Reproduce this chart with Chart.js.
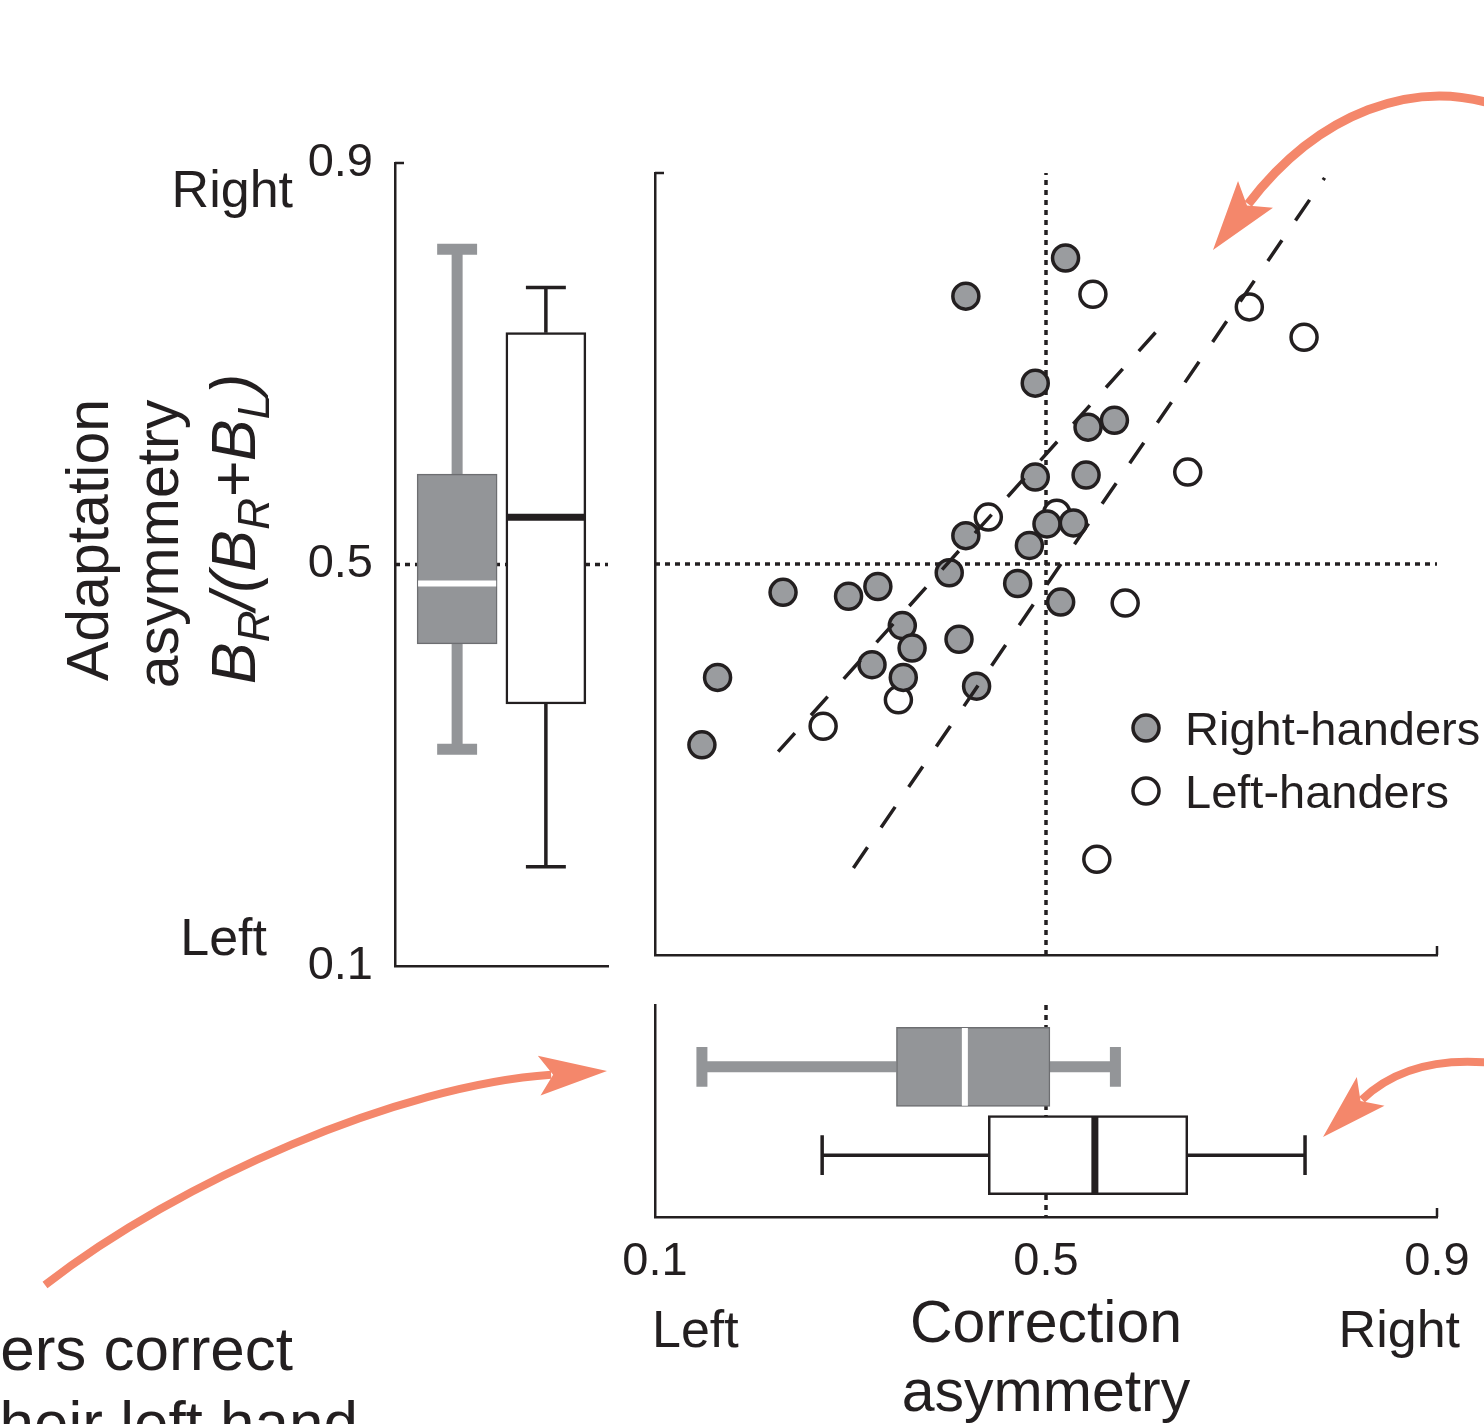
<!DOCTYPE html>
<html>
<head>
<meta charset="utf-8">
<title>Adaptation vs correction asymmetry</title>
<script src="https://cdn.jsdelivr.net/npm/chart.js@4.4.1/dist/chart.umd.min.js"></script>
<style>
  html, body { margin: 0; padding: 0; background: #fff; }
  #wrap { position: relative; width: 1484px; height: 1424px; overflow: hidden; background: #fff; }
  #wrap canvas { position: absolute; left: 0; top: 0; }
</style>
</head>
<body>
<div id="wrap">
  <canvas id="leftBox" width="1484" height="1424"></canvas>
  <canvas id="scatter" width="1484" height="1424"></canvas>
  <canvas id="bottomBox" width="1484" height="1424"></canvas>
</div>
<script>
// groups
const groups = ['Right-handers', 'Left-handers'];

// scatter: correction asymmetry (x) vs adaptation asymmetry (y)
const rightX = [0.520, 0.418, 0.489, 0.543, 0.570, 0.489, 0.541, 0.418, 0.501, 0.528, 0.483, 0.401, 0.471,
                0.515, 0.231, 0.298, 0.328, 0.353, 0.363, 0.411, 0.322, 0.354, 0.429, 0.164, 0.148];
const rightY = [0.813, 0.774, 0.685, 0.640, 0.647, 0.589, 0.591, 0.529, 0.541, 0.542, 0.519, 0.491, 0.480,
                0.461, 0.471, 0.467, 0.477, 0.437, 0.414, 0.423, 0.397, 0.384, 0.375, 0.384, 0.315];
const leftX = [0.548, 0.708, 0.764, 0.645, 0.441, 0.511, 0.581, 0.349, 0.272, 0.552];
const leftY = [0.776, 0.763, 0.732, 0.594, 0.548, 0.552, 0.460, 0.361, 0.334, 0.198];

// regression lines (end points)
const fitRightX = [0.226, 0.614];
const fitRightY = [0.308, 0.739];
const fitLeftX = [0.303, 0.785];
const fitLeftY = [0.189, 0.895];

// box plots, adaptation asymmetry (left panel)
const adaptMin = [0.316, 0.199];
const adaptQ1 = [0.421, 0.361];
const adaptMed = [0.481, 0.547];
const adaptQ3 = [0.590, 0.731];
const adaptMax = [0.814, 0.776];

// box plots, correction asymmetry (bottom panel)
const corrMin = [0.148, 0.271];
const corrQ1 = [0.347, 0.441];
const corrMed = [0.417, 0.550];
const corrQ3 = [0.504, 0.645];
const corrMax = [0.571, 0.765];

const tickValues = [0.1, 0.5, 0.9];
const midline = 0.5;

const ink = '#231f20';
const grey = '#939598';
const dotFill = '#9a9c9f';
const orange = '#f4876b';
const fam = '"Liberation Sans", Arial, Helvetica, sans-serif';

Chart.defaults.font.family = fam;
Chart.defaults.color = ink;

const GAP = { x: null, y: null };
const pt = (horiz, p, v) => horiz ? { x: v, y: p } : { x: p, y: v };

function whiskerData(i, lo, q1, q3, hi, capHalf, horiz) {
  const p = i + 1;
  return [pt(horiz, p, q3[i]), pt(horiz, p, hi[i]), GAP,
          pt(horiz, p, q1[i]), pt(horiz, p, lo[i]), GAP,
          pt(horiz, p - capHalf, hi[i]), pt(horiz, p + capHalf, hi[i]), GAP,
          pt(horiz, p - capHalf, lo[i]), pt(horiz, p + capHalf, lo[i])];
}
function medianData(i, med, half, horiz) {
  const p = i + 1;
  return [pt(horiz, p - half, med[i]), pt(horiz, p + half, med[i])];
}
function lineSet(data, color, width, order, dash) {
  return { type: 'line', data, borderColor: color, borderWidth: width, pointRadius: 0,
           borderDash: dash || [], borderCapStyle: 'butt', fill: false, order, indexAxis: 'x' };
}

const fixTicks = s => { s.ticks = tickValues.map(v => ({ value: v })); };
const noPad = s => { s.paddingTop = 0; s.paddingBottom = 0; s.paddingLeft = 0; s.paddingRight = 0; };
const bareGrid = { display: false, drawTicks: false };

// small inward tick marks at the axis ends
const innerTicks = {
  id: 'innerTicks',
  afterDraw(chart, args, opts) {
    const { ctx, chartArea } = chart;
    ctx.save();
    ctx.strokeStyle = ink;
    ctx.lineWidth = 2.5;
    (opts.y || []).forEach(v => {
      const py = chart.scales.y.getPixelForValue(v);
      ctx.beginPath(); ctx.moveTo(chartArea.left, py); ctx.lineTo(chartArea.left + 9, py); ctx.stroke();
    });
    (opts.x || []).forEach(v => {
      const px = chart.scales.x.getPixelForValue(v);
      ctx.beginPath(); ctx.moveTo(px, chartArea.bottom); ctx.lineTo(px, chartArea.bottom - 9); ctx.stroke();
    });
    ctx.restore();
  }
};

// ---------- left panel: adaptation asymmetry box plots ----------
const adaptLabels = {
  id: 'adaptLabels',
  afterDraw(chart) {
    const { ctx } = chart;
    const y = chart.scales.y;
    ctx.save();
    ctx.fillStyle = ink;
    ctx.textBaseline = 'alphabetic';
    ctx.textAlign = 'right';
    ctx.font = `52px ${fam}`;
    ctx.fillText('Right', 293, y.getPixelForValue(0.9) + 44);
    ctx.fillText('Left', 267, y.getPixelForValue(0.1) - 11);

    ctx.textAlign = 'center';
    ctx.font = `59px ${fam}`;
    [['Adaptation', 108, 540], ['asymmetry', 178, 544]].forEach(([t, x, yc]) => {
      ctx.save(); ctx.translate(x, yc); ctx.rotate(-Math.PI / 2); ctx.fillText(t, 0, 0); ctx.restore();
    });

    // B_R/(B_R+B_L)
    const parts = [['B', 0], ['R', 1], ['/(B', 0], ['R', 1], ['+B', 0], ['L', 1], [')', 0]];
    const big = `italic 63px ${fam}`, small = `italic 44px ${fam}`;
    let total = 0;
    parts.forEach(([t, s]) => { ctx.font = s ? small : big; total += ctx.measureText(t).width; });
    ctx.save();
    ctx.translate(255, 529);
    ctx.rotate(-Math.PI / 2);
    ctx.textAlign = 'left';
    let cx = -total / 2;
    parts.forEach(([t, s]) => {
      ctx.font = s ? small : big;
      ctx.fillText(t, cx, s ? 14 : 0);
      cx += ctx.measureText(t).width;
    });
    ctx.restore();
    ctx.restore();
  }
};

new Chart(document.getElementById('leftBox').getContext('2d'), {
  type: 'bar',
  data: {
    datasets: [
      {
        label: 'boxes',
        data: groups.map((g, i) => ({ x: i + 1, y: [adaptQ1[i], adaptQ3[i]] })),
        backgroundColor: [grey, '#ffffff'],
        borderColor: ['#6d6e71', ink],
        borderWidth: [1.5, 2.5],
        borderSkipped: false,
        barThickness: 80,
        order: 5
      },
      lineSet(whiskerData(0, adaptMin, adaptQ1, adaptQ3, adaptMax, 0.225, false), grey, 11, 6),
      lineSet(whiskerData(1, adaptMin, adaptQ1, adaptQ3, adaptMax, 0.225, false), ink, 3.5, 6),
      lineSet(medianData(0, adaptMed, 0.44, false), '#ffffff', 6, 1),
      lineSet(medianData(1, adaptMed, 0.44, false), ink, 7, 1),
      lineSet([{ x: 0.3, y: midline }, { x: 2.7, y: midline }], ink, 3.5, 10, [5, 5])
    ]
  },
  options: {
    responsive: false,
    animation: false,
    layout: { padding: { left: 295, right: 876, top: 163, bottom: 458 }, autoPadding: false },
    plugins: { legend: { display: false }, tooltip: { enabled: false }, innerTicks: { y: [0.9] } },
    scales: {
      x: {
        type: 'linear', min: 0.3, max: 2.7, offset: false,
        grid: bareGrid, ticks: { display: false },
        border: { color: ink, width: 2.5 },
        afterFit: s => { s.height = 0; noPad(s); }
      },
      y: {
        type: 'linear', min: 0.1, max: 0.9,
        grid: bareGrid,
        border: { color: ink, width: 2.5 },
        ticks: { font: { size: 47 }, color: ink, padding: 22, callback: v => v.toFixed(1) },
        afterBuildTicks: fixTicks,
        afterFit: s => { s.width = 100; noPad(s); }
      }
    }
  },
  plugins: [innerTicks, adaptLabels]
});

// ---------- main scatter ----------
function drawArrow(ctx, a) {
  const dx = a.tip[0] - a.c2[0], dy = a.tip[1] - a.c2[1];
  const L = Math.hypot(dx, dy), ux = dx / L, uy = dy / L, px = -uy, py = ux;
  const bx = a.tip[0] - ux * a.len, by = a.tip[1] - uy * a.len;
  const ex = a.tip[0] - ux * (a.len - 12), ey = a.tip[1] - uy * (a.len - 12);
  ctx.save();
  ctx.strokeStyle = orange; ctx.fillStyle = orange;
  ctx.lineWidth = a.w; ctx.lineCap = 'butt';
  ctx.beginPath();
  ctx.moveTo(a.tail[0], a.tail[1]);
  ctx.bezierCurveTo(a.c1[0], a.c1[1], a.c2[0], a.c2[1], ex, ey);
  ctx.stroke();
  ctx.beginPath();
  ctx.moveTo(a.tip[0], a.tip[1]);
  ctx.lineTo(bx + px * a.half, by + py * a.half);
  ctx.lineTo(a.tip[0] - ux * (a.len - 14), a.tip[1] - uy * (a.len - 14));
  ctx.lineTo(bx - px * a.half, by - py * a.half);
  ctx.closePath();
  ctx.fill();
  ctx.restore();
}

const decor = {
  id: 'decor',
  afterDraw(chart) {
    const { ctx } = chart;
    // legend
    ctx.save();
    chart.data.datasets.filter(d => d.legendY).forEach(d => {
      ctx.beginPath();
      ctx.arc(1146, d.legendY, d.pointRadius, 0, Math.PI * 2);
      ctx.fillStyle = d.backgroundColor; ctx.fill();
      ctx.lineWidth = d.borderWidth; ctx.strokeStyle = d.borderColor; ctx.stroke();
      ctx.fillStyle = ink;
      ctx.font = `47px ${fam}`;
      ctx.textAlign = 'left'; ctx.textBaseline = 'alphabetic';
      ctx.fillText(d.label, 1185, d.legendY + 17);
    });
    ctx.restore();

    // arrows
    drawArrow(ctx, { tail: [1492, 104], c1: [1415, 80], c2: [1320, 110], tip: [1213, 250], len: 70, half: 22, w: 9 });
    drawArrow(ctx, { tail: [45, 1285], c1: [180, 1180], c2: [400, 1085], tip: [607, 1071], len: 68, half: 20, w: 8 });
    drawArrow(ctx, { tail: [1492, 1063], c1: [1440, 1058], c2: [1395, 1068], tip: [1323, 1137], len: 66, half: 20, w: 8 });

    // cropped annotation text
    ctx.save();
    ctx.fillStyle = ink;
    ctx.font = `62px ${fam}`;
    ctx.textAlign = 'right'; ctx.textBaseline = 'alphabetic';
    ctx.fillText('ers correct', 293, 1370);
    ctx.fillText('heir left hand', 358, 1444);
    ctx.restore();
  }
};

const toPoints = (xs, ys) => xs.map((x, i) => ({ x, y: ys[i] }));

new Chart(document.getElementById('scatter').getContext('2d'), {
  type: 'scatter',
  data: {
    datasets: [
      { ...lineSet(toPoints(fitRightX, fitRightY), ink, 3.5, 0, [25, 24]), showLine: true },
      { ...lineSet(toPoints(fitLeftX, fitLeftY), ink, 3.5, 0, [25, 24]), showLine: true },
      {
        label: groups[0], data: toPoints(rightX, rightY), order: 1, legendY: 728,
        pointRadius: 13, pointHoverRadius: 13, backgroundColor: dotFill, borderColor: ink, borderWidth: 3.5
      },
      {
        label: groups[1], data: toPoints(leftX, leftY), order: 2, legendY: 791,
        pointRadius: 13, pointHoverRadius: 13, backgroundColor: '#ffffff', borderColor: ink, borderWidth: 3.5
      },
      { ...lineSet([{ x: midline, y: 0.1 }, { x: midline, y: 0.9 }], ink, 3.5, 3, [5, 5]), showLine: true },
      { ...lineSet([{ x: 0.1, y: midline }, { x: 0.9, y: midline }], ink, 3.5, 3, [5, 5]), showLine: true }
    ]
  },
  options: {
    responsive: false,
    animation: false,
    layout: { padding: { left: 655, right: 47, top: 173, bottom: 469 }, autoPadding: false },
    plugins: { legend: { display: false }, tooltip: { enabled: false }, innerTicks: { x: [0.9], y: [0.9] } },
    scales: {
      x: {
        type: 'linear', min: 0.1, max: 0.9,
        grid: bareGrid, ticks: { display: false },
        border: { color: ink, width: 2.5 },
        afterFit: s => { s.height = 0; noPad(s); }
      },
      y: {
        type: 'linear', min: 0.1, max: 0.9,
        grid: bareGrid, ticks: { display: false },
        border: { color: ink, width: 2.5 },
        afterFit: s => { s.width = 0; noPad(s); }
      }
    }
  },
  plugins: [innerTicks, decor]
});

// ---------- bottom panel: correction asymmetry box plots ----------
const corrLabels = {
  id: 'corrLabels',
  afterDraw(chart) {
    const { ctx } = chart;
    const x = chart.scales.x;
    ctx.save();
    ctx.fillStyle = ink;
    ctx.font = `52px ${fam}`;
    ctx.textBaseline = 'alphabetic';
    ctx.textAlign = 'left';
    ctx.fillText('Left', x.getPixelForValue(0.1) - 3, 1347);
    ctx.textAlign = 'right';
    ctx.fillText('Right', x.getPixelForValue(0.9) + 23, 1347);
    ctx.restore();
  }
};

new Chart(document.getElementById('bottomBox').getContext('2d'), {
  type: 'bar',
  data: {
    datasets: [
      {
        label: 'boxes',
        data: groups.map((g, i) => ({ y: i + 1, x: [corrQ1[i], corrQ3[i]] })),
        backgroundColor: [grey, '#ffffff'],
        borderColor: ['#6d6e71', ink],
        borderWidth: [1.5, 2.5],
        borderSkipped: false,
        barThickness: 79,
        order: 5
      },
      lineSet(whiskerData(0, corrMin, corrQ1, corrQ3, corrMax, 0.225, true), grey, 11, 6),
      lineSet(whiskerData(1, corrMin, corrQ1, corrQ3, corrMax, 0.225, true), ink, 3.5, 6),
      lineSet(medianData(0, corrMed, 0.44, true), '#ffffff', 6, 1),
      lineSet(medianData(1, corrMed, 0.44, true), ink, 7, 1),
      lineSet([{ x: midline, y: 0.3 }, { x: midline, y: 2.7 }], ink, 3.5, 10, [5, 5])
    ]
  },
  options: {
    indexAxis: 'y',
    responsive: false,
    animation: false,
    layout: { padding: { left: 655, right: 47, top: 1005, bottom: 0 }, autoPadding: false },
    plugins: { legend: { display: false }, tooltip: { enabled: false }, innerTicks: { x: [0.9] } },
    scales: {
      x: {
        type: 'linear', min: 0.1, max: 0.9, position: 'bottom',
        grid: bareGrid,
        border: { color: ink, width: 2.5 },
        ticks: { font: { size: 47 }, color: ink, padding: 17, maxRotation: 0, callback: v => v.toFixed(1) },
        afterBuildTicks: fixTicks,
        title: {
          display: true, text: ['Correction', 'asymmetry'], color: ink,
          font: { size: 59, lineHeight: 1.17 }, padding: { top: 0, bottom: -5 }
        },
        afterFit: s => { s.height = 207; noPad(s); }
      },
      y: {
        type: 'linear', min: 0.3, max: 2.7, reverse: true, offset: false, position: 'left',
        grid: bareGrid, ticks: { display: false },
        border: { color: ink, width: 2.5 },
        afterFit: s => { s.width = 0; noPad(s); }
      }
    }
  },
  plugins: [innerTicks, corrLabels]
});
</script>
</body>
</html>
